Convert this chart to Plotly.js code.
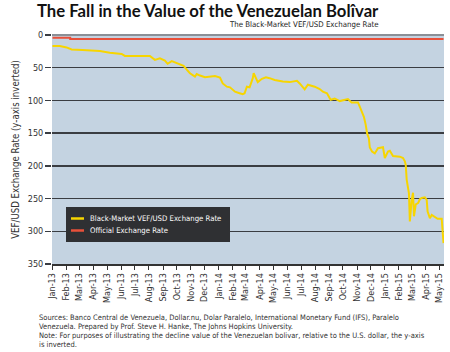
<!DOCTYPE html>
<html>
<head>
<meta charset="utf-8">
<script src="https://cdn.plot.ly/plotly-3.0.1.min.js"></script>
<style>html,body{margin:0;padding:0;background:#fff;}#chart{width:450px;height:352px;}</style>
</head>
<body>
<div id="chart"></div>
<script>
// Black-market VEF/USD rate
const bmDates = [
  '2013-01-01','2013-01-17','2013-02-01','2013-02-12','2013-03-08','2013-04-15','2013-05-07','2013-06-02',
  '2013-06-09','2013-08-03','2013-08-14','2013-08-25','2013-09-05','2013-09-11','2013-09-20','2013-10-03',
  '2013-10-16','2013-10-23','2013-10-30','2013-11-10','2013-11-14','2013-11-21','2013-12-02','2013-12-24',
  '2014-01-04','2014-01-10','2014-01-19','2014-01-26','2014-02-06','2014-02-16','2014-02-23','2014-02-27',
  '2014-03-04','2014-03-10','2014-03-17','2014-03-19','2014-03-24','2014-03-28','2014-04-06','2014-04-15',
  '2014-04-23','2014-05-04','2014-05-22','2014-06-06','2014-06-22','2014-06-28','2014-07-09','2014-07-16',
  '2014-07-31','2014-08-11','2014-08-18','2014-08-27','2014-09-04','2014-09-13','2014-09-24','2014-10-05',
  '2014-10-12','2014-10-20','2014-11-03','2014-11-07','2014-11-12','2014-11-16','2014-11-20','2014-11-23',
  '2014-11-27','2014-11-29','2014-12-04','2014-12-10','2014-12-17','2014-12-28','2015-01-01','2015-01-08',
  '2015-01-12','2015-01-19','2015-02-03','2015-02-10','2015-02-14','2015-02-16','2015-02-18','2015-02-23',
  '2015-02-25','2015-02-27','2015-03-01','2015-03-04','2015-03-06','2015-03-10','2015-03-15','2015-03-19',
  '2015-03-23','2015-03-30','2015-04-03','2015-04-05','2015-04-10','2015-04-14','2015-04-21','2015-04-27',
  '2015-05-06','2015-05-08','2015-05-10'
];
const bmValues = [
  17,17,19,22,23,24.5,27,29,
  32,32,38,35.6,39,44,40,44,
  47,53,58.5,63.6,59.6,62,64.6,62.6,
  65,74,79,80,86.6,89,90.6,89,
  79,80,66,58.5,67,72,67,64.6,
  66,68.7,71,72,70,74,83,76,
  79,82.5,86.6,89,99,97,101,99,
  98,103,103,109.5,117,125,137,150,
  158,172,178,181,173,171.5,188,178,
  177,185,186,188,193,198.5,221,242,
  285,264,252,241,277,259,257,251,
  249,248,252,270,280,275,278.5,281,
  281,303,318
];
// Official exchange rate
const offDates = ['2013-01-01','2013-02-09','2015-05-10'];
const offValues = [4.3, 6.3, 6.3];

const yTicks = [0,50,100,150,200,250,300,350];

const seriesNames = ['Black-Market VEF/USD Exchange Rate', 'Official Exchange Rate'];
const seriesColors = ['#f7d500', '#e8503a'];

const titleText = 'The Fall in the Value of the Venezuelan Bolîvar';
const subtitleText = 'The Black-Market VEF/USD Exchange Rate';
const yTitle = 'VEF/USD Exchange Rate (y-axis inverted)';
const noteLines = [
  'Sources: Banco Central de Venezuela, Dollar.nu, Dolar Paralelo, International Monetary Fund (IFS), Paralelo',
  'Venezuela. Prepared by Prof. Steve H. Hanke, The Johns Hopkins University.',
  'Note: For purposes of illustrating the decline value of the Venezuelan bolivar, relative to the U.S. dollar, the y-axis',
  'is inverted.'
];

const narrow = '"Liberation Sans Narrow", "DejaVu Sans Condensed", "Roboto Condensed", sans-serif';

// pixel -> paper helpers (plot area: x 52..444, y 35..264)
const PL = 52, PW = 392, PT = 35, PH = 229;
const px = v => (v - PL) / PW;
const py = v => (PT + PH - v) / PH;

const traces = [
  {x: bmDates, y: bmValues, type: 'scatter', mode: 'lines', name: seriesNames[0],
   line: {color: seriesColors[0], width: 2}, showlegend: false},
  {x: offDates, y: offValues, type: 'scatter', mode: 'lines', name: seriesNames[1],
   line: {color: seriesColors[1], width: 2, shape: 'hv'}, showlegend: false}
];

const shapes = [
  {type: 'rect', xref: 'paper', yref: 'paper', x0: px(66), x1: px(230), y0: py(242), y1: py(207),
   fillcolor: '#2f3033', line: {width: 0}, layer: 'above'},
  {type: 'line', xref: 'paper', yref: 'paper', x0: px(71), x1: px(84), y0: py(218.5), y1: py(218.5),
   line: {color: seriesColors[0], width: 2.5}, layer: 'above'},
  {type: 'line', xref: 'paper', yref: 'paper', x0: px(71), x1: px(84), y0: py(230.5), y1: py(230.5),
   line: {color: seriesColors[1], width: 2.5}, layer: 'above'}
];

const annotations = [
  {text: subtitleText, xref: 'paper', yref: 'paper', x: px(381), y: py(24),
   xanchor: 'right', yanchor: 'middle', showarrow: false,
   font: {family: narrow, size: 7.8, color: '#222'}},
  {text: seriesNames[0], xref: 'paper', yref: 'paper', x: px(88), y: py(218.5),
   xanchor: 'left', yanchor: 'middle', showarrow: false,
   font: {family: narrow, size: 7.7, color: '#ffffff'}},
  {text: seriesNames[1], xref: 'paper', yref: 'paper', x: px(88), y: py(230.5),
   xanchor: 'left', yanchor: 'middle', showarrow: false,
   font: {family: narrow, size: 7.7, color: '#ffffff'}}
];
const noteY = [317, 326, 335, 344];
noteLines.forEach((t, i) => annotations.push({
  text: t, xref: 'paper', yref: 'paper', x: px(37), y: py(noteY[i]),
  xanchor: 'left', yanchor: 'middle', align: 'left', showarrow: false,
  font: {family: narrow, size: 7.5, color: '#333'}
}));

const layout = {
  width: 450, height: 352,
  margin: {l: 52, r: 6, t: 35, b: 88},
  paper_bgcolor: '#ffffff',
  plot_bgcolor: '#c4d3e1',
  font: {family: narrow, size: 9, color: '#333'},
  title: {text: '<b>' + titleText + '</b>', xref: 'container', yref: 'container',
          x: 37/450, xanchor: 'left', y: 1 - 11/352, yanchor: 'middle',
          font: {family: 'Lato, "Open Sans", sans-serif', size: 16.7, color: '#111'}},
  xaxis: {
    type: 'date', range: ['2012-12-31', '2015-05-11'],
    tick0: '2013-01-01', dtick: 'M1', tickformat: '%b-%y', tickangle: -90,
    ticks: 'outside', ticklen: 4, tickwidth: 1, tickcolor: '#333',
    showline: true, linecolor: '#333', linewidth: 1.5,
    showgrid: false, zeroline: false,
    tickfont: {family: narrow, size: 9, color: '#333'}
  },
  yaxis: {
    range: [350, 0], tickvals: yTicks, ticktext: yTicks.map(String),
    ticks: 'outside', ticklen: 6, tickwidth: 1.5, tickcolor: '#3a3d42',
    showgrid: true, gridcolor: '#3a3d42', gridwidth: 1.5,
    zeroline: true, zerolinecolor: '#8a8f96', zerolinewidth: 2.5, showline: false,
    tickfont: {family: narrow, size: 9, color: '#333'},
    title: {text: yTitle, font: {family: narrow, size: 9.6, color: '#333'}, standoff: 6}
  },
  showlegend: false,
  shapes: shapes,
  annotations: annotations
};

Plotly.newPlot('chart', traces, layout, {displayModeBar: false, staticPlot: true});
</script>
</body>
</html>
